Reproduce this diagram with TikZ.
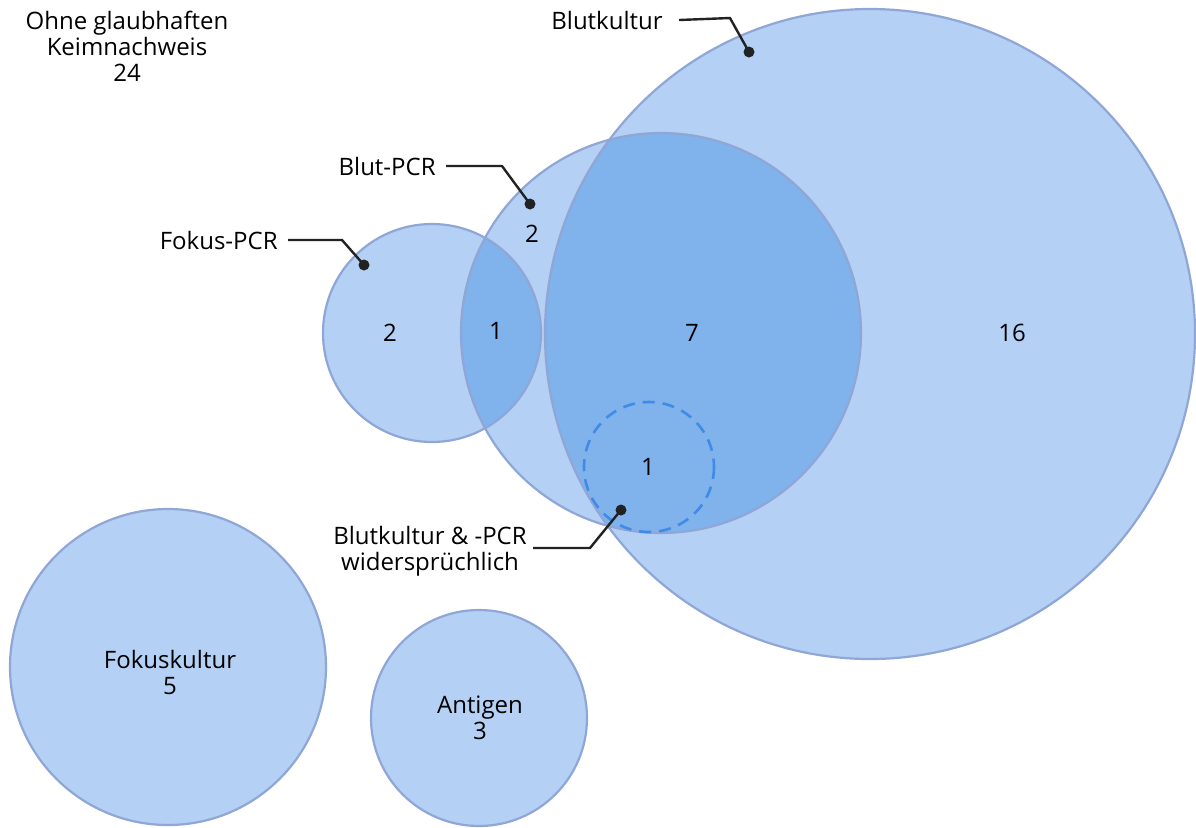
\documentclass[tikz,border=0pt]{standalone}
\usepackage{fontspec}
\setmainfont{Open Sans}
\definecolor{vennlight}{HTML}{B4D0F4}
\definecolor{venndark}{HTML}{80B2EC}
\definecolor{vennedge}{HTML}{8FA6D6}
\definecolor{venndash}{HTML}{3F8BE6}
\definecolor{leadcol}{HTML}{222222}
\tikzset{
  lbl/.style={font=\fontsize{12}{13}\selectfont, align=center, inner sep=0pt},
  leader/.style={draw=leadcol, line width=1.2pt},
  dot/.style={circle, fill=leadcol, inner sep=0pt, minimum size=5.5pt},
  edge/.style={draw=vennedge, line width=1.1pt},
}
\begin{document}
\begin{tikzpicture}[x=0.5pt, y=-0.5pt]
	\useasboundingbox (0,0) rectangle (1196,827);
	% centres of the circles
	\coordinate (bk) at (870,334);
	\coordinate (bp) at (661,333);
	\coordinate (fp) at (432,333);
	\coordinate (wi) at (649,467);
	\coordinate (fk) at (168,667);
	\coordinate (ag) at (479,718);
	% fills
	\fill[vennlight] (bk) circle (325);
	\fill[vennlight] (bp) circle (200);
	\fill[vennlight] (fp) circle (109);
	\fill[vennlight] (fk) circle (158);
	\fill[vennlight] (ag) circle (108);
	% overlaps
	\begin{scope}
		\clip (bp) circle (200);
		\fill[venndark] (bk) circle (325);
		\fill[venndark] (fp) circle (109);
	\end{scope}
	% outlines
	\draw[edge] (bk) circle (325);
	\draw[edge] (bp) circle (200);
	\draw[edge] (fp) circle (109);
	\draw[edge] (fk) circle (158);
	\draw[edge] (ag) circle (108);
	\draw[venndash, line width=1.3pt, dash pattern=on 6pt off 4pt] (wi) circle (65);
	% counts
	\node[lbl] (nfp) at (390,333) {2};
	\node[lbl] (nfpbp) at (496,331) {1};
	\node[lbl] (nbpbk) at (692,333) {7};
	\node[lbl] (nbk) at (1012,333) {16};
	\node[lbl] (nbp) at (532,234) {2};
	\node[lbl] (nwi) at (648,467) {1};
	\node[lbl] (nfk) at (170,672) {Fokuskultur\\5};
	\node[lbl] (nag) at (480,718) {Antigen\\3};
	\node[lbl] (none) at (127,46) {Ohne glaubhaften\\Keimnachweis\\24};
	% labels with leaders
	\node[lbl, anchor=east] (lbk) at (663,20) {Blutkultur};
	\node[lbl, anchor=east] (lbp) at (436,166) {Blut-PCR};
	\node[lbl, anchor=east] (lfp) at (278,240) {Fokus-PCR};
	\node[lbl] (lwi) at (430,551) {Blutkultur \& -PCR\\widersprüchlich};
	\node[dot] (dbk) at (749,52) {};
	\node[dot] (dbp) at (530,204) {};
	\node[dot] (dfp) at (364,265) {};
	\node[dot] (dwi) at (621,510) {};
	\coordinate (kbk) at (730,18);
	\coordinate (kbp) at (502,166);
	\coordinate (kfp) at (342,240);
	\coordinate (kwi) at (590,548);
	\draw[leader] ([xshift=8pt]lbk.east) -- (kbk) -- (dbk.center);
	\draw[leader] ([xshift=5pt]lbp.east) -- (kbp) -- (dbp.center);
	\draw[leader] ([xshift=5pt]lfp.east) -- (kfp) -- (dfp.center);
	\draw[leader] ([xshift=3pt]lwi.east |- kwi) -- (kwi) -- (dwi.center);
\end{tikzpicture}
\end{document}
